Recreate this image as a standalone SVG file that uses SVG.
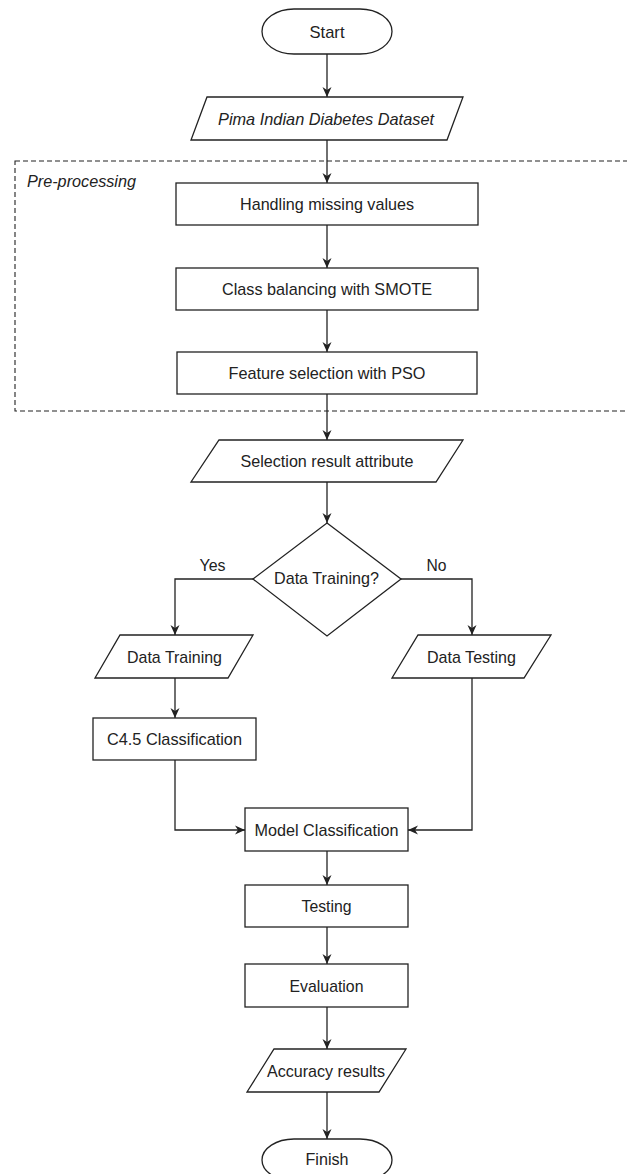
<svg xmlns="http://www.w3.org/2000/svg" width="627" height="1174" viewBox="0 0 627 1174">
<defs>
<marker id="arr" markerUnits="userSpaceOnUse" markerWidth="10" markerHeight="10" refX="10" refY="5" orient="auto">
<path d="M0,0.5 L10,5 L0,9.5 L3,5 z" fill="#222"/>
</marker>
<style>
.shape{fill:#fff;stroke:#222;stroke-width:1.3}
.conn{fill:none;stroke:#222;stroke-width:1.3;marker-end:url(#arr)}
.t{font-family:"Liberation Sans",Arial,sans-serif;font-size:17px;fill:#222;text-anchor:middle}
.it{font-style:italic}
.group{fill:none;stroke:#222;stroke-width:1.1;stroke-dasharray:5 3}
</style>
</defs>
<rect width="627" height="1174" fill="#fff"/>
<g id="preprocessing">
<rect class="group" x="15" y="161" width="700" height="250"/>
<text class="t it" x="27" y="187" style="text-anchor:start" textLength="109" lengthAdjust="spacingAndGlyphs">Pre-processing</text>
</g>
<g id="connectors">
<path class="conn" d="M327,54 L327,97"/>
<path class="conn" d="M327,140 L327,183"/>
<path class="conn" d="M327,225 L327,268"/>
<path class="conn" d="M327,310 L327,352"/>
<path class="conn" d="M327,394 L327,440"/>
<path class="conn" d="M327,482 L327,523"/>
<path class="conn" d="M253,579 L175,579 L175,635"/>
<path class="conn" d="M401,579 L472,579 L472,635"/>
<path class="conn" d="M175,678 L175,718"/>
<path class="conn" d="M175,760 L175,830 L245,830"/>
<path class="conn" d="M472,678 L472,830 L408,830"/>
<path class="conn" d="M327,851 L327,885"/>
<path class="conn" d="M327,927 L327,964"/>
<path class="conn" d="M327,1007 L327,1049"/>
<path class="conn" d="M327,1092 L327,1139"/>
<text class="t" x="212.5" y="571" textLength="26" lengthAdjust="spacingAndGlyphs">Yes</text>
<text class="t" x="436.5" y="571" textLength="20" lengthAdjust="spacingAndGlyphs">No</text>
</g>
<g id="start">
<rect class="shape" x="262" y="9" width="130" height="45" rx="32" ry="22.5"/>
<text class="t" x="327" y="37.5" textLength="35" lengthAdjust="spacingAndGlyphs">Start</text>
</g>
<g id="dataset">
<polygon class="shape" points="207,97 463,97 447,140 191,140"/>
<text class="t it" x="326" y="125" textLength="216" lengthAdjust="spacingAndGlyphs">Pima Indian Diabetes Dataset</text>
</g>
<g id="handling">
<rect class="shape" x="176" y="183" width="302" height="42"/>
<text class="t" x="327" y="210" textLength="174" lengthAdjust="spacingAndGlyphs">Handling missing values</text>
</g>
<g id="smote">
<rect class="shape" x="176" y="268" width="302" height="42"/>
<text class="t" x="327" y="295" textLength="210" lengthAdjust="spacingAndGlyphs">Class balancing with SMOTE</text>
</g>
<g id="pso">
<rect class="shape" x="177" y="352" width="300" height="42"/>
<text class="t" x="327" y="379" textLength="197" lengthAdjust="spacingAndGlyphs">Feature selection with PSO</text>
</g>
<g id="selection">
<polygon class="shape" points="219,440 463,440 436,482 191,482"/>
<text class="t" x="327" y="467" textLength="173" lengthAdjust="spacingAndGlyphs">Selection result attribute</text>
</g>
<g id="decision">
<polygon class="shape" points="327,523 401,579 327,636 253,579"/>
<text class="t" x="326.5" y="584" textLength="105" lengthAdjust="spacingAndGlyphs">Data Training?</text>
</g>
<g id="datatraining">
<polygon class="shape" points="120,635 253,635 228,678 95,678"/>
<text class="t" x="174.5" y="662.5" textLength="95" lengthAdjust="spacingAndGlyphs">Data Training</text>
</g>
<g id="datatesting">
<polygon class="shape" points="418,635 551,635 524,678 392,678"/>
<text class="t" x="471.5" y="662.5" textLength="89" lengthAdjust="spacingAndGlyphs">Data Testing</text>
</g>
<g id="c45">
<rect class="shape" x="93" y="718" width="163" height="42"/>
<text class="t" x="174.5" y="745" textLength="135" lengthAdjust="spacingAndGlyphs">C4.5 Classification</text>
</g>
<g id="model">
<rect class="shape" x="245" y="808" width="163" height="43"/>
<text class="t" x="326.5" y="835.5" textLength="144" lengthAdjust="spacingAndGlyphs">Model Classification</text>
</g>
<g id="testing">
<rect class="shape" x="245" y="885" width="163" height="42"/>
<text class="t" x="326.5" y="912" textLength="50" lengthAdjust="spacingAndGlyphs">Testing</text>
</g>
<g id="evaluation">
<rect class="shape" x="245" y="964" width="163" height="43"/>
<text class="t" x="326.5" y="991.5" textLength="74" lengthAdjust="spacingAndGlyphs">Evaluation</text>
</g>
<g id="accuracy">
<polygon class="shape" points="274,1049 406,1049 379,1092 247,1092"/>
<text class="t" x="326" y="1076.5" textLength="118" lengthAdjust="spacingAndGlyphs">Accuracy results</text>
</g>
<g id="finish">
<rect class="shape" x="262" y="1139" width="130" height="42" rx="32" ry="21"/>
<text class="t" x="327" y="1164.5" textLength="43" lengthAdjust="spacingAndGlyphs">Finish</text>
</g>
</svg>
